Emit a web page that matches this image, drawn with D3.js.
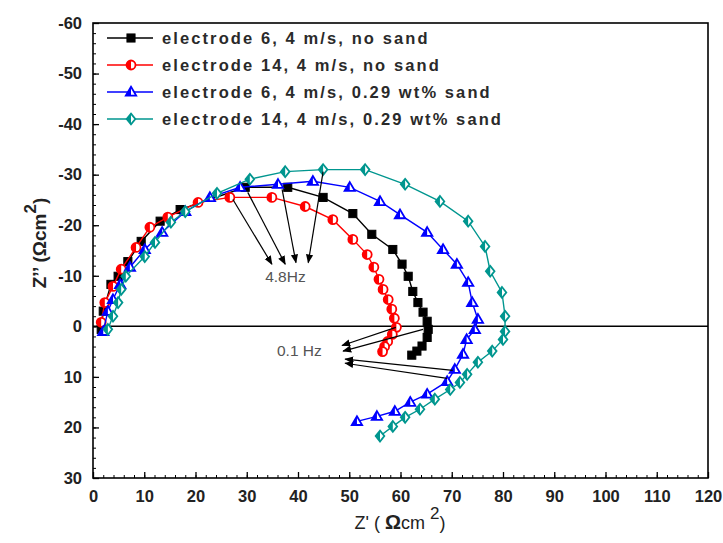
<!DOCTYPE html>
<html>
<head>
<meta charset="utf-8">
<script src="https://d3js.org/d3.v7.min.js"></script>
<style>
  body { margin: 0; background: #fff; }
  svg text { font-family: Arial, "Liberation Sans", sans-serif; }
</style>
</head>
<body>
<div id="canvas"></div>
<script>
// series: [Z', Z''] in ohm cm2
const e6NoSand = [
  [1.6, 0.6], [2.0, -3.0], [3.5, -8.3], [4.9, -9.9], [6.8, -12.8], [9.4, -16.8],
  [13.1, -20.8], [17.0, -23.1], [29.7, -27.5], [38.0, -27.5], [44.9, -25.5],
  [50.7, -22.3], [54.4, -18.2], [58.5, -15.2], [60.3, -12.3], [61.5, -9.9],
  [62.4, -6.9], [63.4, -4.7], [64.4, -2.8], [65.2, -1.0], [65.4, 0.6],
  [65.2, 2.2], [64.2, 3.9], [63.2, 4.9], [62.2, 5.7]
];
const e14NoSand = [
  [1.6, -0.8], [2.3, -4.7], [3.9, -7.9], [5.5, -11.3], [8.4, -15.6], [11.1, -19.6],
  [14.6, -21.6], [20.5, -24.5], [26.7, -25.5], [34.9, -25.5], [41.4, -23.7], [46.8, -21.1],
  [50.7, -17.2], [53.5, -14.2], [54.8, -11.7], [55.8, -9.3], [56.6, -7.3],
  [57.6, -5.3], [58.3, -3.4], [58.8, -1.6], [59.2, 0.2], [58.4, 1.6],
  [57.5, 3.0], [56.9, 4.0], [56.5, 5.0]
];
const e6Sand = [
  [2.0, 1.0], [2.9, -3.0], [3.9, -5.3], [5.3, -8.3], [7.2, -11.7], [10.1, -15.2],
  [13.5, -18.6], [18.0, -22.7], [22.8, -25.5], [28.7, -27.5], [36.1, -28.1],
  [42.9, -28.7], [50.1, -27.5], [56.0, -24.7], [59.9, -22.1], [65.2, -18.6],
  [68.3, -15.2], [71.0, -12.3], [73.2, -8.7], [74.0, -4.7], [75.1, -1.4],
  [74.5, 0.6], [72.9, 2.6], [72.2, 5.5], [70.6, 8.5], [69.1, 10.9], [65.2, 13.4],
  [61.9, 15.0], [58.9, 16.8], [55.4, 17.8], [51.5, 18.8]
];
const e14Sand = [
  [2.9, 0.6], [3.9, -2.0], [4.9, -4.7], [5.5, -7.3], [6.4, -9.9], [10.1, -13.8],
  [12.1, -16.6], [15.2, -20.6], [18.0, -22.7], [24.2, -26.3], [30.6, -29.1],
  [37.5, -30.6], [44.9, -31.0], [53.1, -31.0], [60.9, -28.1], [67.7, -24.7],
  [73.2, -20.8], [76.5, -15.8], [77.5, -10.9], [79.8, -6.7], [80.4, -2.0],
  [80.4, 1.0], [80.0, 2.6], [77.9, 4.9], [75.1, 7.1], [73.0, 9.5], [71.6, 11.1],
  [69.7, 12.5], [66.7, 14.4], [63.8, 16.4], [60.9, 18.0], [58.5, 19.8], [56.0, 21.7]
];

const seriesNames = [
  'electrode 6, 4 m/s, no sand',
  'electrode 14, 4 m/s, no sand',
  'electrode 6, 4 m/s, 0.29 wt% sand',
  'electrode 14, 4 m/s, 0.29 wt% sand'
];
const seriesData = [e6NoSand, e14NoSand, e6Sand, e14Sand];
const seriesColors = ['#000000', '#ff0000', '#0000ff', '#00968f'];
const seriesShapes = ['square', 'circle', 'triangle', 'diamond'];

const xTicks = d3.range(0, 121, 10);
const yTicks = d3.range(-60, 31, 10);

// frequency annotations: [x1, y1, x2, y2] (tail -> head)
const arrows48 = [[27.3, -25.1, 34.9, -12.3], [30.2, -26.5, 37.5, -12.3], [36.9, -27.1, 39.6, -12.6], [44.9, -30.6, 42.0, -12.6]];
const arrows01 = [[59.1, 0.2, 48.6, 3.8], [64.4, 0.6, 48.8, 4.9], [70.2, 8.7, 49.2, 6.5], [69.1, 10.3, 49.2, 7.3]];
const labels = [{ text: '4.8Hz', x: 33.6, y: -8.7 }, { text: '0.1 Hz', x: 35.9, y: 5.9 }];

const w = 723;
const h = 543;
const padLeft = 93, padRight = 708, padTop = 23, padBottom = 478;

const xScale = d3.scaleLinear().domain([0, 120]).range([padLeft, padRight]);
const yScale = d3.scaleLinear().domain([-60, 30]).range([padTop, padBottom]);

const svg = d3.select('#canvas')
  .append('svg')
  .attr('width', w)
  .attr('height', h);

const defs = svg.append('defs');
defs.append('marker')
  .attr('id', 'head')
  .attr('viewBox', '0 0 10 10')
  .attr('refX', 9).attr('refY', 5)
  .attr('markerWidth', 9).attr('markerHeight', 9)
  .attr('markerUnits', 'userSpaceOnUse')
  .attr('orient', 'auto')
  .append('path')
  .attr('d', 'M0,1 L10,5 L0,9 Z')
  .attr('fill', '#000');

// zero line
svg.append('line')
  .attr('x1', padLeft).attr('x2', padRight)
  .attr('y1', yScale(0)).attr('y2', yScale(0))
  .attr('stroke', '#000').attr('stroke-width', 1.5);

// minor ticks
svg.append('g')
  .attr('transform', 'translate(' + padLeft + ',0)')
  .call(d3.axisLeft(yScale).tickValues(d3.range(-60, 31, 2)).tickSize(-3).tickFormat(''))
  .call(g => g.select('.domain').remove());
svg.append('g')
  .attr('transform', 'translate(0,' + padBottom + ')')
  .call(d3.axisBottom(xScale).tickValues(d3.range(0, 121, 2)).tickSize(-3).tickFormat(''))
  .call(g => g.select('.domain').remove());

const yAxis = svg.append('g')
  .attr('transform', 'translate(' + padLeft + ',0)')
  .call(d3.axisLeft(yScale).tickValues(yTicks).tickSize(-6).tickPadding(11).tickFormat(d => String(d)));
const xAxis = svg.append('g')
  .attr('transform', 'translate(0,' + padBottom + ')')
  .call(d3.axisBottom(xScale).tickValues(xTicks).tickSize(-6).tickPadding(12).tickFormat(d => String(d)));

[xAxis, yAxis].forEach(g => {
  g.select('.domain').remove();
  g.selectAll('text').attr('font-size', 16.5).attr('font-weight', 'bold').attr('fill', '#222')
    .attr('font-family', 'Arial, "Liberation Sans", sans-serif');
  g.selectAll('line').attr('stroke-width', 1.3);
});
svg.selectAll('.tick line').attr('stroke', '#000');

// frame
svg.append('rect')
  .attr('x', padLeft).attr('y', padTop)
  .attr('width', padRight - padLeft).attr('height', padBottom - padTop)
  .attr('fill', 'none').attr('stroke', '#000').attr('stroke-width', 1.6);

// marker shapes
function drawMarker(g, shape, color, s) {
  if (shape === 'square') {
    g.append('rect').attr('x', -s * 0.45).attr('y', -s * 0.45).attr('width', s * 0.9).attr('height', s * 0.9)
      .attr('fill', color).attr('stroke', color);
    return;
  }
  let outline, half;
  const r = s * 0.5;
  if (shape === 'circle') {
    outline = d3.path(); outline.arc(0, 0, r, 0, Math.PI * 2);
    half = 'M0,' + (-r) + ' A' + r + ',' + r + ' 0 0 0 0,' + r + ' Z';
  } else if (shape === 'triangle') {
    const t = r * 1.15;
    outline = 'M0,' + (-t) + ' L' + (t) + ',' + (t * 0.7) + ' L' + (-t) + ',' + (t * 0.7) + ' Z';
    half = 'M0,' + (-t) + ' L' + (-t) + ',' + (t * 0.7) + ' L0,' + (t * 0.7) + ' Z';
  } else {
    const t = r * 1.2;
    outline = 'M0,' + (-t) + ' L' + (t * 0.8) + ',0 L0,' + t + ' L' + (-t * 0.8) + ',0 Z';
    half = 'M0,' + (-t) + ' L' + (-t * 0.8) + ',0 L0,' + t + ' Z';
  }
  g.append('path').attr('d', outline.toString()).attr('fill', '#fff').attr('stroke', color).attr('stroke-width', 1.8);
  g.append('path').attr('d', half).attr('fill', color);
}

const line = d3.line().x(d => xScale(d[0])).y(d => yScale(d[1]));

seriesData.forEach((data, i) => {
  const g = svg.append('g');
  g.append('path')
    .attr('d', line(data))
    .attr('fill', 'none')
    .attr('stroke', seriesColors[i])
    .attr('stroke-width', 1.4);
  g.selectAll('g.pt')
    .data(data)
    .enter()
    .append('g')
    .attr('class', 'pt')
    .attr('transform', d => 'translate(' + xScale(d[0]) + ',' + yScale(d[1]) + ')')
    .each(function() { drawMarker(d3.select(this), seriesShapes[i], seriesColors[i], 9); });
});

// arrows
svg.selectAll('line.arr')
  .data(arrows48.concat(arrows01))
  .enter()
  .append('line')
  .attr('class', 'arr')
  .attr('x1', d => xScale(d[0])).attr('y1', d => yScale(d[1]))
  .attr('x2', d => xScale(d[2])).attr('y2', d => yScale(d[3]))
  .attr('stroke', '#000').attr('stroke-width', 1.2)
  .attr('marker-end', 'url(#head)');

svg.selectAll('text.lbl')
  .data(labels)
  .enter()
  .append('text')
  .attr('class', 'lbl')
  .attr('x', d => xScale(d.x)).attr('y', d => yScale(d.y))
  .attr('font-size', 15.5)
  .attr('fill', '#555')
  .text(d => d.text);

// legend
const legend = svg.append('g');
seriesNames.forEach((name, i) => {
  const yy = 38 + i * 27;
  legend.append('line')
    .attr('x1', 107).attr('x2', 153).attr('y1', yy).attr('y2', yy)
    .attr('stroke', seriesColors[i]).attr('stroke-width', 1.6);
  drawMarker(legend.append('g').attr('transform', 'translate(131,' + yy + ')'), seriesShapes[i], seriesColors[i], 9);
  legend.append('text')
    .attr('x', 162).attr('y', yy + 6)
    .attr('font-size', 16.5)
    .attr('font-weight', 'bold')
    .attr('letter-spacing', 2.1)
    .attr('fill', '#2a2a2a')
    .text(name);
});

// axis titles
const xt = svg.append('text')
  .attr('x', 400).attr('y', 529)
  .attr('text-anchor', 'middle')
  .attr('font-size', 18)
  .attr('fill', '#222');
xt.append('tspan').text("Z' ( ");
xt.append('tspan').attr('font-weight', 'bold').attr('font-size', 20).text('\u03A9');
xt.append('tspan').text('cm ');
xt.append('tspan').attr('dy', -10).attr('font-size', 17).text('2');
xt.append('tspan').attr('dy', 10).text(')');

const yt = svg.append('text')
  .attr('transform', 'translate(46,' + 243 + ') rotate(-90)')
  .attr('text-anchor', 'middle')
  .attr('font-size', 19)
  .attr('font-weight', 'bold')
  .attr('fill', '#222');
yt.append('tspan').text('Z\u2019\u2019 (');
yt.append('tspan').text('\u03A9');
yt.append('tspan').text('cm');
yt.append('tspan').attr('dy', -10).attr('font-size', 17).text('2');
yt.append('tspan').attr('dy', 10).text(')');
</script>
</body>
</html>
